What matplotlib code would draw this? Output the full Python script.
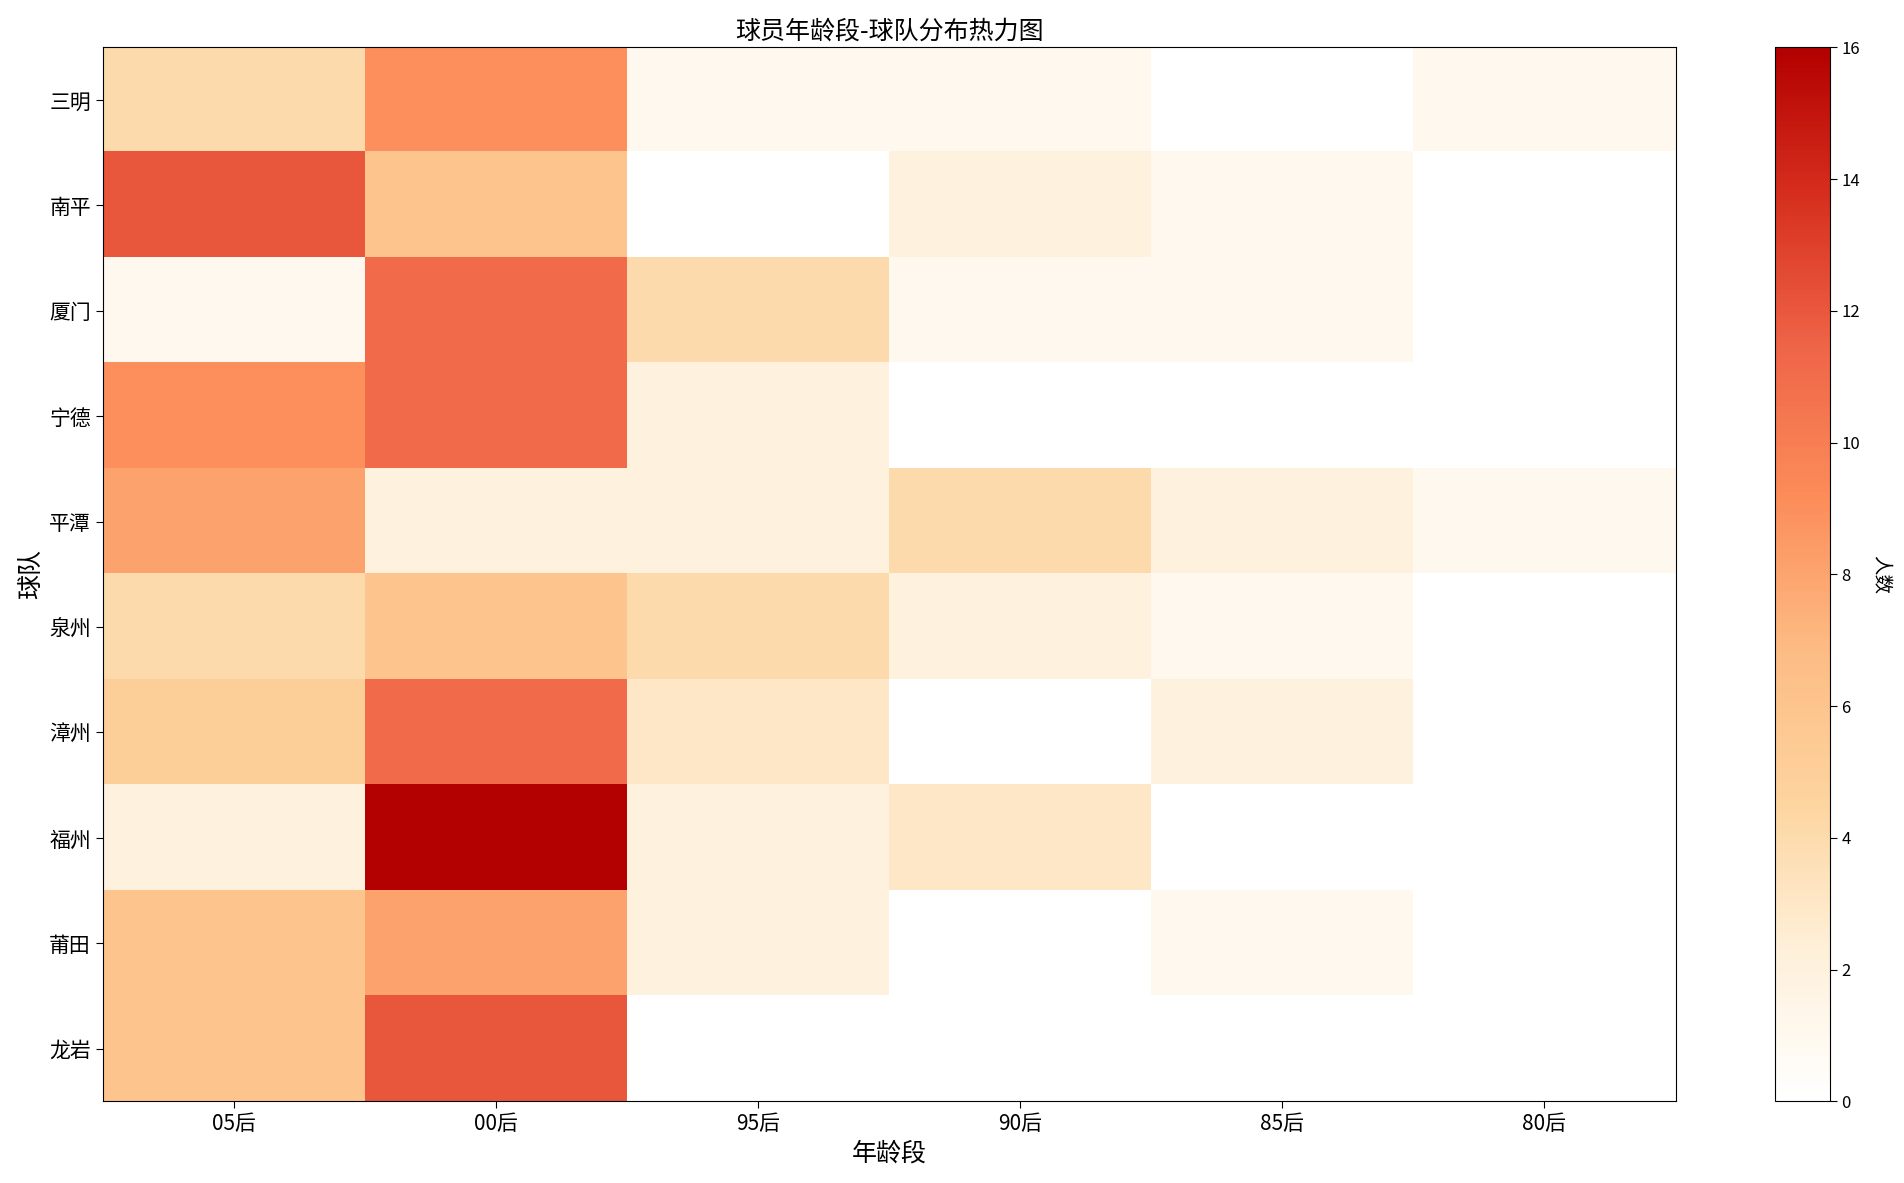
import numpy as np
import matplotlib
matplotlib.use("Agg")
import matplotlib.pyplot as plt
from matplotlib.colors import LinearSegmentedColormap

plt.rcParams['font.family'] = ['Noto Sans CJK SC', 'DejaVu Sans']

# ---------------- data ----------------
teams = ["三明", "南平", "厦门", "宁德", "平潭", "泉州", "漳州", "福州", "莆田", "龙岩"]
age_groups = ["05后", "00后", "95后", "90后", "85后", "80后"]

sanming = [4, 9, 1, 1, 0, 1]
nanping = [12, 6, 0, 2, 1, 0]
xiamen = [1, 11, 4, 1, 1, 0]
ningde = [9, 11, 2, 0, 0, 0]
pingtan = [8, 2, 2, 4, 2, 1]
quanzhou = [4, 6, 4, 2, 1, 0]
zhangzhou = [5, 11, 3, 0, 2, 0]
fuzhou = [2, 16, 2, 3, 0, 0]
putian = [6, 8, 2, 0, 1, 0]
longyan = [6, 12, 0, 0, 0, 0]

counts = np.array([sanming, nanping, xiamen, ningde, pingtan,
                   quanzhou, zhangzhou, fuzhou, putian, longyan])

# OrRd-like ramp starting at white
cmap = LinearSegmentedColormap.from_list(
    "orrd_white",
    ["#ffffff", "#fef0d9", "#fdd49e", "#fdbb84", "#fc8d59", "#ef6548", "#d7301f", "#b30000"])

fig = plt.figure(figsize=(19.04, 11.83), dpi=100)
ax = fig.add_axes([0.054, 0.069, 0.826, 0.891])
cax = fig.add_axes([0.932, 0.069, 0.029, 0.891])

im = ax.imshow(counts, cmap=cmap, vmin=0, vmax=16, aspect='auto')

ax.set_xticks(np.arange(len(age_groups)))
ax.set_xticklabels(age_groups, fontsize=15)
ax.set_yticks(np.arange(len(teams)))
ax.set_yticklabels(teams, fontsize=15)
ax.tick_params(length=5)

ax.set_xlabel("年龄段", fontsize=18)
ax.set_ylabel("球队", fontsize=18)
ax.set_title("球员年龄段-球队分布热力图", fontsize=18)

cb = fig.colorbar(im, cax=cax)
cb.set_ticks(range(0, 17, 2))
cb.ax.tick_params(labelsize=12, length=5)
cb.set_label("人数", fontsize=14, rotation=270, labelpad=22)

fig.savefig("out.png", dpi=100)
